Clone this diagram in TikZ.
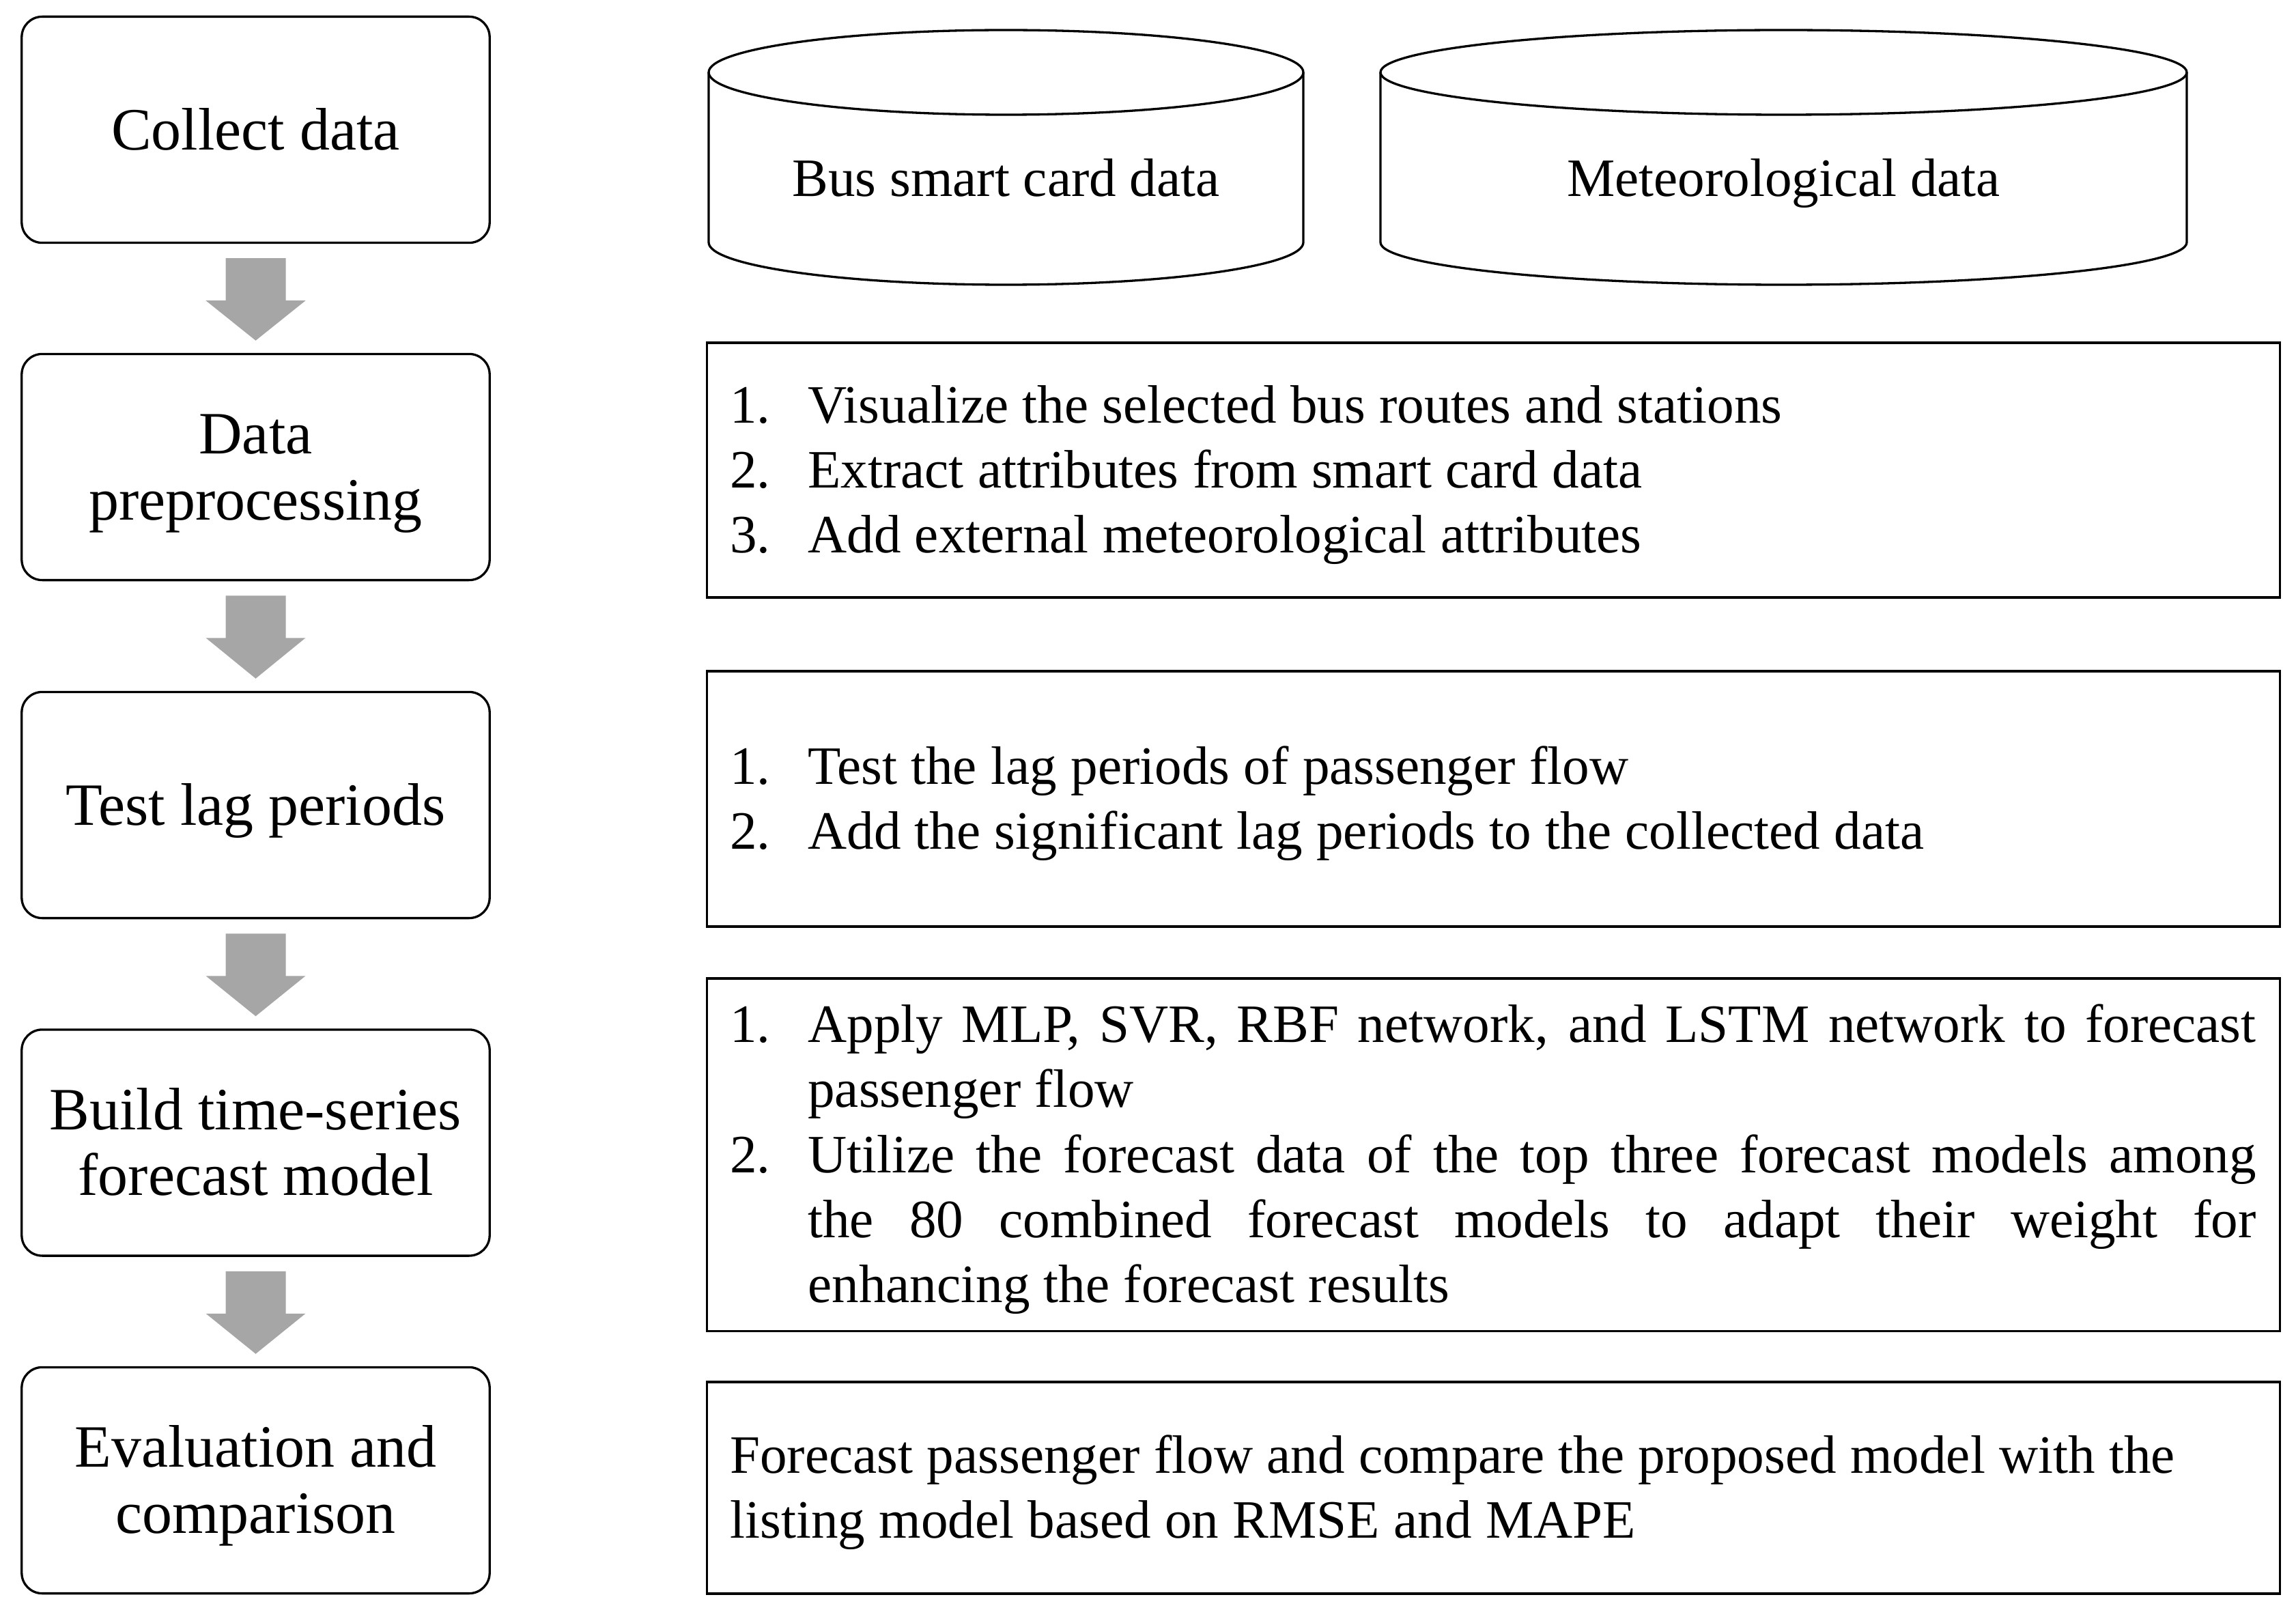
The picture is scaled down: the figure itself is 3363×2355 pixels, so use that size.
\documentclass[tikz,border=0pt]{standalone}
\usepackage{fontspec}
\setmainfont{Liberation Serif}
\usetikzlibrary{calc}
\definecolor{arrowgray}{HTML}{A6A6A6}
\setlength{\parindent}{0pt}
\hbadness=10000
\hfuzz=2pt
\newcommand{\lstrut}{\rule[-0.19cm]{0pt}{0.96cm}}
\newcommand{\rstrut}{\rule[-0.215cm]{0pt}{0.95cm}}
\newcommand{\tightspace}{\spaceskip=0.257em plus 0.1em minus 0.05em\relax}
\newcommand{\itm}[2]{\rstrut\makebox[1.14cm][l]{#1}{\tightspace #2}}
\newcommand{\jline}[1]{\makebox[21.2cm][s]{\spaceskip=0.257em plus 1fil\relax #1}}
\newcommand{\tline}[1]{\rstrut{\tightspace #1}}
\begin{document}
\begin{tikzpicture}[x=0.01cm,y=-0.01cm,
  stagebox/.style={draw, line width=0.033cm, rounded corners=0.3cm, minimum width=6.85cm, minimum height=3.31cm, align=center, inner sep=0pt, font=\fontsize{25pt}{27.4pt}\selectfont},
  descbox/.style={draw, line width=0.033cm, minimum width=23.03cm, text width=22.35cm, align=left, inner sep=0pt, font=\fontsize{22.5pt}{27.1pt}\selectfont},
  cyltext/.style={inner sep=0pt, font=\fontsize{22.5pt}{27.1pt}\selectfont},
  cylline/.style={line width=0.033cm},
  blockarrow/.style={fill=arrowgray}]
\useasboundingbox (0,0) rectangle (3363,2355);

% stages
\node[stagebox] (b1) at (374.5,190) {\lstrut Collect data};
\node[stagebox] (b2) at (374.5,684) {\lstrut Data\\\lstrut preprocessing};
\node[stagebox] (b3) at (374.5,1179) {\lstrut Test lag periods};
\node[stagebox] (b4) at (374.5,1673.5) {\lstrut Build time-series\\\lstrut forecast model};
\node[stagebox] (b5) at (374.5,2168) {\lstrut Evaluation and\\\lstrut comparison};

% block arrows
\foreach \a/\b in {b1/b2,b2/b3,b3/b4,b4/b5}{
  \fill[blockarrow] ($(\a.south)+(-44,21)$) -- ($(\a.south)+(44,21)$) -- ($(\a.south)+(44,83)$) -- ($(\a.south)+(73,83)$) -- ($(\b.north)+(0,-18)$) -- ($(\a.south)+(-73,83)$) -- ($(\a.south)+(-44,83)$) -- cycle;
}

% cylinders
\draw[cylline] (1038,106) -- (1038,355) arc[start angle=180,end angle=0,x radius=435.5,y radius=62] -- (1909,106);
\draw[cylline] (1473.5,106) ellipse [x radius=435.5, y radius=62];
\node[cyltext, anchor=base] (bus) at (1473.5,288) {Bus smart card data};

\draw[cylline] (2022,106) -- (2022,355) arc[start angle=180,end angle=0,x radius=590.5,y radius=62] -- (3203,106);
\draw[cylline] (2612.5,106) ellipse [x radius=590.5, y radius=62];
\node[cyltext, anchor=base] (met) at (2612.5,288) {Meteorological data};

% descriptions
\node[descbox, minimum height=3.73cm] (dA) at (2187.5,688.5) {%
\itm{1.}{Visualize the selected bus routes and stations}\\
\itm{2.}{Extract attributes from smart card data}\\
\itm{3.}{Add external meteorological attributes}};

\node[descbox, minimum height=3.74cm] (dB) at (2187.5,1170) {%
\itm{1.}{Test the lag periods of passenger flow}\\
\itm{2.}{Add the significant lag periods to the collected data}};

\node[descbox, minimum height=5.16cm] (dC) at (2187.5,1691) {%
\itm{1.}{\jline{Apply MLP, SVR, RBF network, and LSTM network to forecast}}\\
\itm{}{passenger flow}\\
\itm{2.}{\jline{Utilize the forecast data of the top three forecast models among}}\\
\itm{}{\jline{the 80 combined forecast models to adapt their weight for}}\\
\itm{}{enhancing the forecast results}};

\node[descbox, minimum height=3.10cm] (dD) at (2187.5,2179) {%
\tline{Forecast passenger flow and compare the proposed model with the}\\
\tline{listing model based on RMSE and MAPE}};
\end{tikzpicture}
\end{document}
